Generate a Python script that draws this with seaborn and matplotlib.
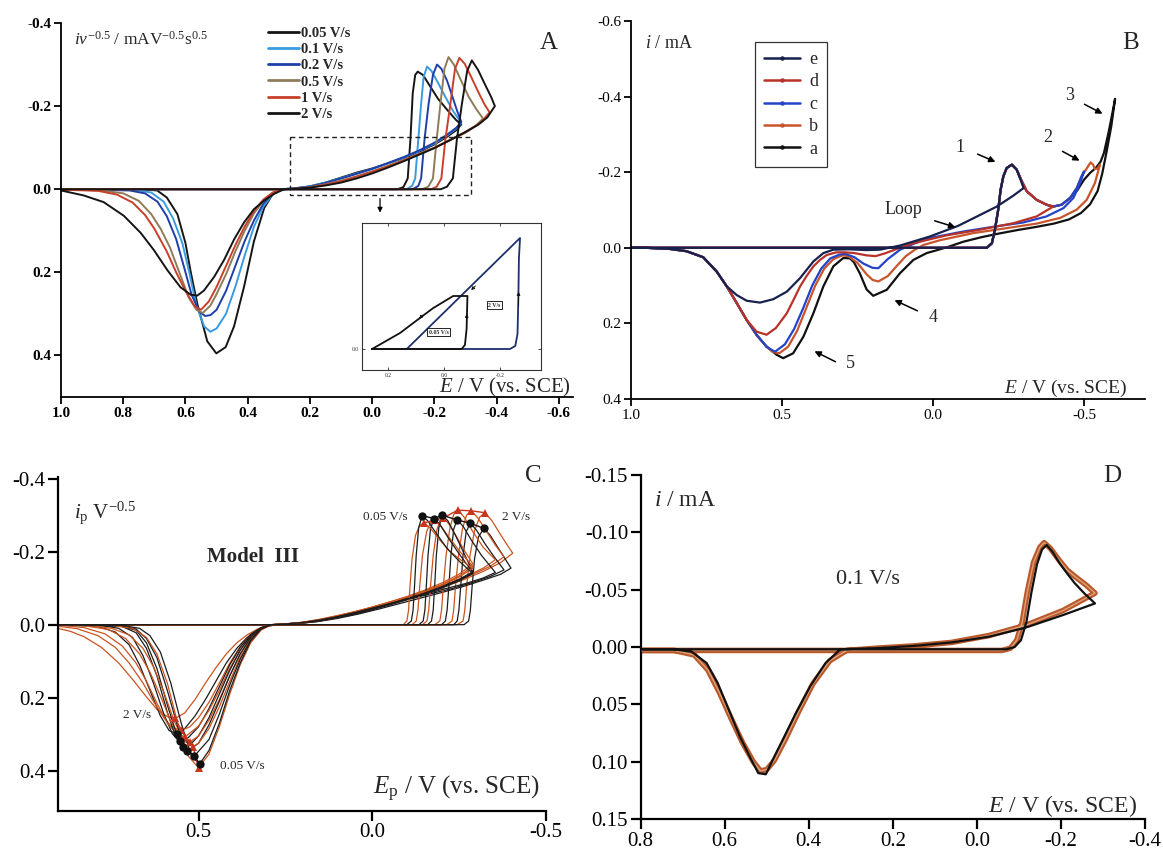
import numpy as np
import matplotlib
matplotlib.use("Agg")
import matplotlib.pyplot as plt
import seaborn as sns
from matplotlib.patches import Rectangle
from matplotlib.lines import Line2D

sns.set_style("ticks")
plt.rcParams["font.family"] = ["Liberation Serif", "DejaVu Serif"]
plt.rcParams["mathtext.fontset"] = "custom"
plt.rcParams["mathtext.rm"] = "Liberation Serif"
plt.rcParams["mathtext.it"] = "Liberation Serif:italic"
plt.rcParams["mathtext.bf"] = "Liberation Serif:bold"
plt.rcParams["axes.unicode_minus"] = False

# ---------------- Panel A: scan-rate normalised voltammograms ----------------
a_labels = ["0.05 V/s", "0.1 V/s", "0.2 V/s", "0.5 V/s", "1 V/s", "2 V/s"]
a_colors = ["#151515", "#3a9be0", "#1f3fa8", "#8e7b58", "#c8402a", "#151515"]

a_005 = [(1.0, 0.0), (0.40, 0.0), (-0.08, 0.0), (-0.100, -0.005), (-0.114, -0.026), (-0.123, -0.124),
         (-0.130, -0.230), (-0.138, -0.275), (-0.146, -0.283), (-0.163, -0.275), (-0.184, -0.250),
         (-0.211, -0.218), (-0.243, -0.189), (-0.270, -0.166), (-0.286, -0.156),
         (-0.27, -0.142), (-0.24, -0.126), (-0.20, -0.108), (-0.15, -0.090), (-0.10, -0.075),
         (-0.05, -0.062), (0.00, -0.050), (0.05, -0.040), (0.10, -0.028), (0.15, -0.016), (0.20, -0.007),
         (0.25, -0.002), (0.294, 0.0), (0.320, 0.012), (0.347, 0.045), (0.380, 0.125), (0.412, 0.235),
         (0.444, 0.330), (0.471, 0.380), (0.501, 0.395), (0.530, 0.366), (0.562, 0.276), (0.583, 0.200),
         (0.600, 0.130), (0.626, 0.060), (0.660, 0.020), (0.691, 0.003), (0.75, 0.0), (1.0, 0.0)]
a_01 = [(1.0, 0.0), (-0.11, 0.0), (-0.128, -0.008), (-0.138, -0.026), (-0.148, -0.120), (-0.157, -0.205),
        (-0.165, -0.270), (-0.176, -0.295), (-0.190, -0.285), (-0.210, -0.258), (-0.235, -0.222),
        (-0.260, -0.188), (-0.286, -0.160),
        (-0.27, -0.146), (-0.24, -0.129), (-0.20, -0.110), (-0.15, -0.092), (-0.10, -0.076), (-0.05, -0.062),
        (0.00, -0.049), (0.05, -0.038), (0.10, -0.027), (0.15, -0.016), (0.20, -0.007), (0.25, -0.002),
        (0.29, 0.0), (0.32, 0.012), (0.35, 0.042), (0.38, 0.090), (0.41, 0.160), (0.44, 0.235), (0.47, 0.300),
        (0.50, 0.335), (0.52, 0.343), (0.54, 0.330), (0.565, 0.280), (0.588, 0.200), (0.610, 0.130),
        (0.640, 0.070), (0.670, 0.030), (0.710, 0.008), (0.760, 0.002), (1.0, 0.0)]
a_02 = [(1.0, 0.0), (-0.13, 0.0), (-0.148, -0.008), (-0.157, -0.026), (-0.168, -0.120), (-0.181, -0.205),
        (-0.195, -0.275), (-0.208, -0.300), (-0.222, -0.290), (-0.240, -0.262), (-0.258, -0.222),
        (-0.272, -0.190), (-0.286, -0.162),
        (-0.27, -0.148), (-0.24, -0.131), (-0.20, -0.112), (-0.15, -0.093), (-0.10, -0.077), (-0.05, -0.063),
        (0.00, -0.049), (0.05, -0.037), (0.10, -0.026), (0.15, -0.015), (0.20, -0.006), (0.25, -0.002),
        (0.29, 0.0), (0.32, 0.010), (0.35, 0.035), (0.38, 0.075), (0.41, 0.125), (0.44, 0.185), (0.47, 0.245),
        (0.50, 0.290), (0.52, 0.303), (0.537, 0.305), (0.555, 0.295), (0.580, 0.255), (0.600, 0.200),
        (0.630, 0.120), (0.660, 0.065), (0.690, 0.030), (0.730, 0.010), (0.780, 0.003), (1.0, 0.0)]
a_05 = [(1.0, 0.0), (-0.16, 0.0), (-0.180, -0.006), (-0.195, -0.026), (-0.207, -0.120), (-0.219, -0.205),
        (-0.232, -0.290), (-0.245, -0.318), (-0.262, -0.300), (-0.285, -0.262), (-0.310, -0.222),
        (-0.335, -0.192), (-0.356, -0.170),
        (-0.33, -0.151), (-0.30, -0.136), (-0.25, -0.118), (-0.20, -0.100), (-0.15, -0.085), (-0.10, -0.070),
        (-0.05, -0.056), (0.00, -0.043), (0.05, -0.031), (0.10, -0.021), (0.15, -0.012), (0.20, -0.005),
        (0.25, -0.001), (0.29, 0.0), (0.32, 0.009), (0.35, 0.028), (0.38, 0.058), (0.41, 0.100), (0.44, 0.150),
        (0.47, 0.205), (0.50, 0.252), (0.52, 0.280), (0.545, 0.298), (0.565, 0.290), (0.590, 0.260),
        (0.620, 0.200), (0.650, 0.140), (0.680, 0.095), (0.710, 0.060), (0.750, 0.028), (0.800, 0.010),
        (0.870, 0.003), (1.0, 0.0)]
a_1 = [(1.0, 0.0), (-0.19, 0.0), (-0.207, -0.006), (-0.222, -0.026), (-0.235, -0.120), (-0.251, -0.205),
       (-0.266, -0.290), (-0.280, -0.316), (-0.297, -0.302), (-0.318, -0.270), (-0.340, -0.235),
       (-0.360, -0.205), (-0.377, -0.185),
       (-0.35, -0.161), (-0.30, -0.138), (-0.25, -0.119), (-0.20, -0.100), (-0.15, -0.084), (-0.10, -0.069),
       (-0.05, -0.055), (0.00, -0.042), (0.05, -0.030), (0.10, -0.019), (0.15, -0.011), (0.20, -0.004),
       (0.25, -0.001), (0.29, 0.0), (0.32, 0.008), (0.35, 0.025), (0.38, 0.052), (0.41, 0.090), (0.44, 0.135),
       (0.47, 0.185), (0.50, 0.235), (0.525, 0.270), (0.550, 0.290), (0.570, 0.282), (0.600, 0.245),
       (0.630, 0.200), (0.660, 0.150), (0.700, 0.095), (0.730, 0.062), (0.770, 0.032), (0.820, 0.013),
       (0.880, 0.004), (1.0, 0.001)]
a_2 = [(1.0, 0.0), (-0.22, 0.0), (-0.240, -0.006), (-0.259, -0.026), (-0.272, -0.120), (-0.288, -0.205),
       (-0.305, -0.285), (-0.320, -0.310), (-0.340, -0.287), (-0.361, -0.254), (-0.382, -0.222),
       (-0.394, -0.200),
       (-0.37, -0.173), (-0.34, -0.155), (-0.30, -0.138), (-0.25, -0.118), (-0.20, -0.099), (-0.15, -0.083),
       (-0.10, -0.067), (-0.05, -0.052), (0.00, -0.038), (0.05, -0.026), (0.10, -0.016), (0.15, -0.009),
       (0.20, -0.004), (0.25, -0.001), (0.283, 0.0), (0.315, 0.011), (0.347, 0.027), (0.380, 0.048),
       (0.412, 0.080), (0.444, 0.121), (0.476, 0.170), (0.508, 0.211), (0.541, 0.244), (0.562, 0.256),
       (0.583, 0.254), (0.616, 0.236), (0.658, 0.195), (0.702, 0.146), (0.744, 0.105), (0.798, 0.064),
       (0.863, 0.031), (0.927, 0.015), (1.0, 0.003)]

# zoomed view of the nucleation loop (inset)
ins_2v_E = [0.257, -0.236, -0.255, -0.263, -0.266, -0.268, -0.272, 0.133]
ins_2v_i = [0.0, 0.0, -0.003, -0.015, -0.050, -0.090, -0.111, 0.0]
ins_005_E = [0.257, -0.063, -0.075, -0.081, -0.084, -0.033, 0.038, 0.086, 0.157, 0.257]
ins_005_i = [0.0, 0.0, -0.004, -0.020, -0.053, -0.053, -0.041, -0.031, -0.016, 0.0]

# ---------------- Panel B: different switching potentials ----------------
b_labels = ["e", "d", "c", "b", "a"]
b_colors = ["#17214d", "#b8322a", "#2344c8", "#c8552c", "#111111"]

b_e = [(1.0, 0.0), (0.5, 0.0), (-0.178, 0.0), (-0.195, -0.012), (-0.205, -0.048), (-0.216, -0.101),
       (-0.224, -0.154), (-0.233, -0.189), (-0.244, -0.211), (-0.261, -0.220), (-0.277, -0.207),
       (-0.290, -0.180), (-0.300, -0.158),
       (-0.266, -0.138), (-0.211, -0.109), (-0.156, -0.087), (-0.083, -0.058), (0.010, -0.030),
       (0.109, -0.006), (0.176, 0.005), (0.220, 0.006), (0.280, 0.004), (0.330, 0.005), (0.363, 0.014),
       (0.396, 0.036), (0.440, 0.080), (0.484, 0.116), (0.529, 0.136), (0.573, 0.145), (0.617, 0.140),
       (0.650, 0.125), (0.683, 0.102), (0.716, 0.063), (0.761, 0.025), (0.816, 0.009), (0.871, 0.003),
       (0.950, 0.0), (1.0, 0.0)]
b_d = [(1.0, 0.0), (0.5, 0.0), (-0.178, 0.0), (-0.195, -0.012), (-0.205, -0.048), (-0.216, -0.101),
       (-0.224, -0.154), (-0.233, -0.189), (-0.244, -0.211), (-0.261, -0.220), (-0.277, -0.207),
       (-0.294, -0.176), (-0.310, -0.150), (-0.343, -0.127), (-0.376, -0.114), (-0.398, -0.109),
       (-0.343, -0.083), (-0.266, -0.065), (-0.156, -0.048), (-0.045, -0.033), (0.065, -0.012),
       (0.120, 0.003), (0.160, 0.015), (0.190, 0.022), (0.220, 0.020), (0.260, 0.014), (0.290, 0.012),
       (0.320, 0.012), (0.352, 0.019), (0.374, 0.032), (0.396, 0.049), (0.418, 0.074), (0.440, 0.102),
       (0.462, 0.138), (0.484, 0.173), (0.520, 0.212), (0.551, 0.230), (0.584, 0.222), (0.617, 0.191),
       (0.650, 0.146), (0.683, 0.102), (0.716, 0.063), (0.761, 0.025), (0.816, 0.009), (0.871, 0.003),
       (0.950, 0.0), (1.0, 0.0)]
b_c = [(1.0, 0.0), (0.5, 0.0), (-0.178, 0.0), (-0.195, -0.012), (-0.205, -0.048), (-0.216, -0.101),
       (-0.224, -0.154), (-0.233, -0.189), (-0.244, -0.211), (-0.261, -0.220), (-0.277, -0.207),
       (-0.294, -0.176), (-0.310, -0.150), (-0.343, -0.127), (-0.376, -0.114), (-0.398, -0.109),
       (-0.426, -0.114), (-0.454, -0.132), (-0.476, -0.158), (-0.492, -0.189), (-0.500, -0.202),
       (-0.487, -0.171), (-0.465, -0.132), (-0.432, -0.105), (-0.376, -0.083), (-0.299, -0.067),
       (-0.211, -0.057), (-0.100, -0.043), (0.010, -0.026), (0.060, -0.012), (0.109, 0.005), (0.150, 0.030),
       (0.181, 0.054), (0.200, 0.053), (0.230, 0.042), (0.260, 0.025), (0.290, 0.016), (0.310, 0.018),
       (0.340, 0.028), (0.370, 0.055), (0.400, 0.100), (0.430, 0.160), (0.460, 0.215), (0.490, 0.255),
       (0.523, 0.275), (0.551, 0.262), (0.584, 0.230), (0.617, 0.191), (0.650, 0.146), (0.683, 0.102),
       (0.716, 0.063), (0.761, 0.025), (0.816, 0.009), (0.871, 0.003), (0.950, 0.0), (1.0, 0.0)]
b_b = [(1.0, 0.0), (0.5, 0.0), (-0.178, 0.0), (-0.195, -0.012), (-0.205, -0.048), (-0.216, -0.101),
       (-0.224, -0.154), (-0.233, -0.189), (-0.244, -0.211), (-0.261, -0.220), (-0.277, -0.207),
       (-0.294, -0.176), (-0.310, -0.150), (-0.343, -0.127), (-0.376, -0.114), (-0.398, -0.109),
       (-0.426, -0.114), (-0.454, -0.132), (-0.476, -0.158), (-0.492, -0.189), (-0.509, -0.210),
       (-0.522, -0.226), (-0.530, -0.220), (-0.536, -0.208), (-0.545, -0.210), (-0.553, -0.220),
       (-0.536, -0.171), (-0.509, -0.127), (-0.476, -0.101), (-0.421, -0.079), (-0.343, -0.064),
       (-0.244, -0.052), (-0.134, -0.039), (-0.023, -0.020), (0.030, -0.008), (0.060, 0.005), (0.090, 0.022),
       (0.120, 0.048), (0.150, 0.075), (0.181, 0.089), (0.200, 0.085), (0.220, 0.070), (0.250, 0.040),
       (0.280, 0.022), (0.300, 0.020), (0.330, 0.030), (0.360, 0.055), (0.390, 0.100), (0.420, 0.160),
       (0.450, 0.220), (0.480, 0.262), (0.509, 0.279), (0.530, 0.276), (0.551, 0.262), (0.584, 0.231),
       (0.617, 0.191), (0.650, 0.146), (0.683, 0.102), (0.716, 0.063), (0.761, 0.025), (0.816, 0.009),
       (0.871, 0.003), (0.950, 0.0), (1.0, 0.0)]
b_a = [(1.0, 0.0), (0.5, 0.0), (-0.178, 0.0), (-0.195, -0.012), (-0.205, -0.048), (-0.216, -0.101),
       (-0.224, -0.154), (-0.233, -0.189), (-0.244, -0.211), (-0.261, -0.220), (-0.277, -0.207),
       (-0.294, -0.176), (-0.310, -0.150), (-0.343, -0.127), (-0.376, -0.114), (-0.398, -0.109),
       (-0.426, -0.114), (-0.454, -0.132), (-0.476, -0.150), (-0.500, -0.180), (-0.520, -0.198),
       (-0.540, -0.212), (-0.555, -0.228), (-0.566, -0.251), (-0.581, -0.304), (-0.592, -0.348),
       (-0.603, -0.394),
       (-0.590, -0.320), (-0.575, -0.255), (-0.560, -0.195), (-0.545, -0.150), (-0.520, -0.115),
       (-0.490, -0.092), (-0.450, -0.075), (-0.400, -0.064), (-0.340, -0.055), (-0.280, -0.047),
       (-0.220, -0.038), (-0.160, -0.028), (-0.100, -0.016), (-0.056, -0.004), (-0.023, 0.004),
       (0.021, 0.014), (0.065, 0.032), (0.109, 0.067), (0.153, 0.111), (0.198, 0.127), (0.220, 0.110),
       (0.242, 0.068), (0.262, 0.038), (0.275, 0.028), (0.297, 0.027), (0.330, 0.049), (0.363, 0.102),
       (0.396, 0.173), (0.429, 0.235), (0.463, 0.279), (0.496, 0.292), (0.518, 0.283), (0.551, 0.261),
       (0.584, 0.231), (0.617, 0.191), (0.650, 0.146), (0.683, 0.102), (0.716, 0.063), (0.761, 0.025),
       (0.816, 0.009), (0.871, 0.003), (0.950, 0.0), (1.0, 0.0)]

# ---------------- Panel C: experiment (black) vs Model III (red) ----------------
c_r005 = [(0.906, 0.0), (-0.09, 0.0), (-0.100, -0.010), (-0.105, -0.040), (-0.109, -0.104), (-0.115, -0.180),
          (-0.125, -0.245), (-0.137, -0.272), (-0.150, -0.279), (-0.170, -0.262), (-0.195, -0.232),
          (-0.225, -0.200), (-0.260, -0.174), (-0.290, -0.155), (-0.25, -0.130), (-0.20, -0.108),
          (-0.15, -0.090), (-0.10, -0.075), (-0.05, -0.061), (0.00, -0.048), (0.05, -0.036), (0.10, -0.025),
          (0.15, -0.015), (0.20, -0.007), (0.25, -0.002), (0.29, 0.0), (0.32, 0.015), (0.35, 0.050),
          (0.38, 0.110), (0.41, 0.190), (0.44, 0.280), (0.47, 0.355), (0.500, 0.392), (0.53, 0.360),
          (0.56, 0.270), (0.59, 0.160), (0.62, 0.080), (0.65, 0.035), (0.69, 0.010), (0.75, 0.002), (0.906, 0.0)]
c_b005 = [(0.906, 0.0), (-0.10, 0.0), (-0.113, -0.010), (-0.118, -0.040), (-0.122, -0.104), (-0.127, -0.190),
          (-0.134, -0.265), (-0.144, -0.299), (-0.160, -0.285), (-0.185, -0.250), (-0.215, -0.210),
          (-0.250, -0.175), (-0.290, -0.140), (-0.25, -0.120), (-0.20, -0.100), (-0.15, -0.084),
          (-0.10, -0.070), (-0.05, -0.057), (0.00, -0.045), (0.05, -0.033), (0.10, -0.022), (0.15, -0.013),
          (0.20, -0.006), (0.25, -0.002), (0.29, 0.0), (0.32, 0.012), (0.35, 0.045), (0.38, 0.105),
          (0.41, 0.180), (0.44, 0.270), (0.47, 0.345), (0.497, 0.382), (0.52, 0.360), (0.55, 0.270),
          (0.58, 0.160), (0.61, 0.075), (0.64, 0.030), (0.67, 0.010), (0.72, 0.002), (0.906, 0.0)]
c_r01 = [(0.906, 0.0), (-0.115, 0.0), (-0.127, -0.010), (-0.132, -0.040), (-0.137, -0.104), (-0.145, -0.190),
         (-0.157, -0.255), (-0.168, -0.280), (-0.180, -0.287), (-0.200, -0.268), (-0.225, -0.235),
         (-0.255, -0.198), (-0.290, -0.160), (-0.25, -0.133), (-0.20, -0.110), (-0.15, -0.092),
         (-0.10, -0.076), (-0.05, -0.062), (0.00, -0.048), (0.05, -0.035), (0.10, -0.024), (0.15, -0.014),
         (0.20, -0.006), (0.25, -0.002), (0.29, 0.0), (0.32, 0.013), (0.35, 0.042), (0.38, 0.090),
         (0.41, 0.155), (0.44, 0.225), (0.47, 0.285), (0.50, 0.325), (0.516, 0.334), (0.54, 0.320),
         (0.57, 0.265), (0.60, 0.185), (0.63, 0.115), (0.66, 0.065), (0.70, 0.028), (0.75, 0.010),
         (0.82, 0.002), (0.906, 0.0)]
c_b01 = [(0.906, 0.0), (-0.135, 0.0), (-0.147, -0.010), (-0.152, -0.040), (-0.156, -0.104), (-0.161, -0.190),
         (-0.168, -0.262), (-0.178, -0.291), (-0.195, -0.275), (-0.220, -0.237), (-0.250, -0.195),
         (-0.290, -0.143), (-0.25, -0.122), (-0.20, -0.102), (-0.15, -0.086), (-0.10, -0.071),
         (-0.05, -0.058), (0.00, -0.045), (0.05, -0.033), (0.10, -0.022), (0.15, -0.013), (0.20, -0.006),
         (0.25, -0.002), (0.29, 0.0), (0.32, 0.012), (0.35, 0.042), (0.38, 0.095), (0.41, 0.165),
         (0.44, 0.245), (0.47, 0.315), (0.512, 0.360), (0.535, 0.345), (0.56, 0.280), (0.59, 0.180),
         (0.62, 0.090), (0.65, 0.038), (0.68, 0.012), (0.73, 0.002), (0.906, 0.0)]
c_r02 = [(0.906, 0.0), (-0.145, 0.0), (-0.158, -0.010), (-0.163, -0.040), (-0.168, -0.104), (-0.176, -0.190),
         (-0.186, -0.258), (-0.195, -0.285), (-0.205, -0.293), (-0.222, -0.275), (-0.245, -0.238),
         (-0.268, -0.200), (-0.290, -0.167), (-0.25, -0.138), (-0.20, -0.114), (-0.15, -0.094),
         (-0.10, -0.077), (-0.05, -0.062), (0.00, -0.048), (0.05, -0.035), (0.10, -0.023), (0.15, -0.013),
         (0.20, -0.006), (0.25, -0.002), (0.29, 0.0), (0.32, 0.012), (0.35, 0.038), (0.38, 0.082),
         (0.41, 0.140), (0.44, 0.205), (0.47, 0.262), (0.50, 0.305), (0.525, 0.322), (0.55, 0.310),
         (0.58, 0.265), (0.61, 0.195), (0.64, 0.130), (0.67, 0.080), (0.71, 0.038), (0.76, 0.013),
         (0.83, 0.003), (0.906, 0.0)]
c_b02 = [(0.906, 0.0), (-0.16, 0.0), (-0.171, -0.010), (-0.176, -0.040), (-0.180, -0.104), (-0.185, -0.190),
         (-0.192, -0.265), (-0.202, -0.300), (-0.218, -0.285), (-0.240, -0.245), (-0.265, -0.195),
         (-0.290, -0.145), (-0.25, -0.124), (-0.20, -0.104), (-0.15, -0.087), (-0.10, -0.072),
         (-0.05, -0.058), (0.00, -0.045), (0.05, -0.033), (0.10, -0.022), (0.15, -0.013), (0.20, -0.006),
         (0.25, -0.002), (0.29, 0.0), (0.32, 0.010), (0.35, 0.035), (0.38, 0.080), (0.41, 0.140),
         (0.44, 0.210), (0.47, 0.275), (0.50, 0.325), (0.532, 0.347), (0.56, 0.310), (0.59, 0.220),
         (0.62, 0.120), (0.65, 0.050), (0.68, 0.015), (0.73, 0.003), (0.906, 0.0)]
c_r05 = [(0.906, 0.0), (-0.18, 0.0), (-0.195, -0.010), (-0.200, -0.040), (-0.205, -0.104), (-0.213, -0.190),
         (-0.224, -0.265), (-0.235, -0.302), (-0.247, -0.314), (-0.265, -0.295), (-0.290, -0.255),
         (-0.320, -0.212), (-0.355, -0.178), (-0.32, -0.155), (-0.27, -0.132), (-0.20, -0.106),
         (-0.15, -0.090), (-0.10, -0.074), (-0.05, -0.059), (0.00, -0.045), (0.05, -0.032), (0.10, -0.021),
         (0.15, -0.012), (0.20, -0.005), (0.25, -0.001), (0.29, 0.0), (0.32, 0.010), (0.35, 0.032),
         (0.38, 0.070), (0.41, 0.120), (0.44, 0.180), (0.47, 0.235), (0.50, 0.278), (0.538, 0.307),
         (0.56, 0.302), (0.59, 0.270), (0.62, 0.215), (0.65, 0.155), (0.68, 0.105), (0.72, 0.058),
         (0.77, 0.025), (0.83, 0.008), (0.906, 0.001)]
c_b05 = [(0.906, 0.0), (-0.20, 0.0), (-0.211, -0.010), (-0.216, -0.040), (-0.221, -0.104), (-0.227, -0.190),
         (-0.235, -0.262), (-0.245, -0.287), (-0.262, -0.270), (-0.285, -0.233), (-0.315, -0.190),
         (-0.355, -0.143), (-0.32, -0.128), (-0.27, -0.113), (-0.20, -0.096), (-0.15, -0.083),
         (-0.10, -0.069), (-0.05, -0.055), (0.00, -0.042), (0.05, -0.030), (0.10, -0.020), (0.15, -0.011),
         (0.20, -0.005), (0.25, -0.001), (0.29, 0.0), (0.32, 0.009), (0.35, 0.030), (0.38, 0.070),
         (0.41, 0.125), (0.44, 0.190), (0.47, 0.255), (0.50, 0.305), (0.525, 0.330), (0.545, 0.335),
         (0.565, 0.310), (0.59, 0.240), (0.62, 0.140), (0.65, 0.065), (0.68, 0.022), (0.72, 0.005), (0.906, 0.0)]
c_r1 = [(0.906, 0.0), (-0.215, 0.0), (-0.230, -0.010), (-0.235, -0.040), (-0.240, -0.104), (-0.249, -0.190),
        (-0.260, -0.262), (-0.272, -0.300), (-0.286, -0.312), (-0.305, -0.292), (-0.330, -0.255),
        (-0.355, -0.218), (-0.380, -0.186), (-0.34, -0.160), (-0.29, -0.138), (-0.23, -0.114),
        (-0.17, -0.094), (-0.10, -0.073), (-0.05, -0.058), (0.00, -0.044), (0.05, -0.031), (0.10, -0.020),
        (0.15, -0.011), (0.20, -0.005), (0.25, -0.001), (0.29, 0.0), (0.32, 0.008), (0.35, 0.027),
        (0.38, 0.060), (0.41, 0.105), (0.44, 0.160), (0.47, 0.213), (0.50, 0.255), (0.525, 0.280),
        (0.550, 0.290), (0.575, 0.282), (0.60, 0.255), (0.63, 0.210), (0.66, 0.160), (0.70, 0.105),
        (0.74, 0.062), (0.79, 0.030), (0.85, 0.011), (0.906, 0.004)]
c_b1 = [(0.906, 0.0), (-0.235, 0.0), (-0.245, -0.010), (-0.250, -0.040), (-0.255, -0.104), (-0.262, -0.190),
        (-0.271, -0.255), (-0.283, -0.278), (-0.300, -0.260), (-0.325, -0.222), (-0.350, -0.188),
        (-0.380, -0.150), (-0.34, -0.132), (-0.29, -0.116), (-0.23, -0.099), (-0.17, -0.085),
        (-0.10, -0.068), (-0.05, -0.054), (0.00, -0.041), (0.05, -0.029), (0.10, -0.019), (0.15, -0.010),
        (0.20, -0.004), (0.25, -0.001), (0.29, 0.0), (0.32, 0.008), (0.35, 0.027), (0.38, 0.062),
        (0.41, 0.110), (0.44, 0.170), (0.47, 0.230), (0.50, 0.280), (0.53, 0.310), (0.553, 0.318),
        (0.575, 0.300), (0.60, 0.245), (0.63, 0.160), (0.66, 0.085), (0.69, 0.035), (0.73, 0.010),
        (0.78, 0.002), (0.906, 0.0)]
c_r2 = [(0.906, 0.0), (-0.245, 0.0), (-0.262, -0.010), (-0.267, -0.040), (-0.272, -0.104), (-0.282, -0.190),
        (-0.295, -0.258), (-0.310, -0.295), (-0.325, -0.307), (-0.345, -0.285), (-0.368, -0.250),
        (-0.388, -0.220), (-0.405, -0.196), (-0.37, -0.170), (-0.32, -0.146), (-0.26, -0.122),
        (-0.20, -0.101), (-0.14, -0.082), (-0.08, -0.064), (-0.02, -0.048), (0.04, -0.032), (0.10, -0.019),
        (0.16, -0.009), (0.22, -0.003), (0.27, 0.0), (0.30, 0.003), (0.33, 0.012), (0.36, 0.028),
        (0.39, 0.050), (0.42, 0.080), (0.45, 0.118), (0.48, 0.160), (0.51, 0.205), (0.54, 0.242),
        (0.567, 0.257), (0.59, 0.252), (0.62, 0.232), (0.65, 0.198), (0.69, 0.150), (0.73, 0.105),
        (0.78, 0.062), (0.83, 0.033), (0.87, 0.018), (0.906, 0.010)]
c_b2 = [(0.906, 0.0), (-0.265, 0.0), (-0.278, -0.010), (-0.283, -0.040), (-0.288, -0.104), (-0.295, -0.180),
        (-0.306, -0.240), (-0.322, -0.264), (-0.340, -0.245), (-0.362, -0.212), (-0.382, -0.182),
        (-0.400, -0.155), (-0.37, -0.138), (-0.32, -0.122), (-0.26, -0.104), (-0.20, -0.088),
        (-0.14, -0.073), (-0.08, -0.058), (-0.02, -0.043), (0.04, -0.029), (0.10, -0.017), (0.16, -0.008),
        (0.22, -0.003), (0.27, 0.0), (0.30, 0.004), (0.33, 0.015), (0.36, 0.035), (0.39, 0.065),
        (0.42, 0.105), (0.45, 0.155), (0.48, 0.205), (0.51, 0.250), (0.54, 0.285), (0.562, 0.300),
        (0.585, 0.290), (0.61, 0.250), (0.64, 0.180), (0.67, 0.110), (0.70, 0.055), (0.74, 0.020),
        (0.79, 0.005), (0.906, 0.0)]

# peak positions marked on the curves
c_cat_black_E = [-0.144, -0.178, -0.202, -0.245, -0.283, -0.322]
c_cat_black_i = [-0.299, -0.291, -0.300, -0.287, -0.278, -0.264]
c_cat_red_E = [-0.150, -0.180, -0.205, -0.247, -0.286, -0.325]
c_cat_red_i = [-0.279, -0.287, -0.293, -0.314, -0.312, -0.307]
c_an_black_E = [0.497, 0.512, 0.532, 0.545, 0.553, 0.562]
c_an_black_i = [0.382, 0.360, 0.347, 0.335, 0.318, 0.300]
c_an_red_E = [0.500, 0.516, 0.525, 0.538, 0.550, 0.567]
c_an_red_i = [0.392, 0.334, 0.322, 0.307, 0.290, 0.257]

# ---------------- Panel D: fit at 0.1 V/s ----------------
d_exp = [(0.80, 0.002), (0.40, 0.002), (0.00, 0.002), (-0.070, 0.002), (-0.090, 0.0), (-0.105, -0.006),
         (-0.118, -0.022), (-0.130, -0.048), (-0.143, -0.072), (-0.155, -0.085), (-0.166, -0.089),
         (-0.180, -0.083), (-0.197, -0.073), (-0.215, -0.064), (-0.232, -0.056), (-0.255, -0.047),
         (-0.281, -0.038), (-0.206, -0.028), (-0.117, -0.017), (-0.029, -0.009), (0.060, -0.004),
         (0.148, -0.001), (0.237, 0.001), (0.325, 0.002), (0.360, 0.014), (0.396, 0.034), (0.431, 0.058),
         (0.462, 0.081), (0.489, 0.101), (0.502, 0.111), (0.520, 0.110), (0.537, 0.098), (0.564, 0.078),
         (0.590, 0.055), (0.617, 0.031), (0.643, 0.014), (0.679, 0.004), (0.723, 0.002), (0.80, 0.002)]
d_sim = [(0.80, 0.003), (0.40, 0.003), (0.00, 0.003), (-0.060, 0.003), (-0.080, 0.001), (-0.095, -0.006),
         (-0.108, -0.022), (-0.120, -0.048), (-0.135, -0.074), (-0.150, -0.087), (-0.160, -0.091),
         (-0.175, -0.086), (-0.195, -0.076), (-0.215, -0.067), (-0.235, -0.061), (-0.260, -0.054),
         (-0.281, -0.047), (-0.206, -0.032), (-0.117, -0.019), (-0.029, -0.010), (0.060, -0.004),
         (0.148, -0.001), (0.237, 0.001), (0.310, 0.003), (0.350, 0.012), (0.390, 0.032), (0.425, 0.057),
         (0.455, 0.080), (0.482, 0.099), (0.500, 0.107), (0.515, 0.108), (0.532, 0.100), (0.558, 0.083),
         (0.585, 0.062), (0.612, 0.040), (0.640, 0.020), (0.672, 0.007), (0.720, 0.003), (0.80, 0.003)]

# ---------------- axis ticks ----------------
a_xticks = [1.0, 0.8, 0.6, 0.4, 0.2, 0.0, -0.2, -0.4, -0.6]
a_xlabels = ["1.0", "0.8", "0.6", "0.4", "0.2", "0.0", "-0.2", "-0.4", "-0.6"]
a_yticks = [-0.4, -0.2, 0.0, 0.2, 0.4]
a_ylabels = ["-0.4", "-0.2", "0.0", "0.2", "0.4"]
b_xticks = [1.0, 0.5, 0.0, -0.5]
b_xlabels = ["1.0", "0.5", "0.0", "-0.5"]
b_yticks = [-0.6, -0.4, -0.2, 0.0, 0.2, 0.4]
b_ylabels = ["-0.6", "-0.4", "-0.2", "0.0", "0.2", "0.4"]
c_xticks = [0.5, 0.0, -0.5]
c_xlabels = ["0.5", "0.0", "-0.5"]
c_yticks = [-0.4, -0.2, 0.0, 0.2, 0.4]
c_ylabels = ["-0.4", "-0.2", "0.0", "0.2", "0.4"]
d_xticks = [0.8, 0.6, 0.4, 0.2, 0.0, -0.2, -0.4]
d_xlabels = ["0.8", "0.6", "0.4", "0.2", "0.0", "-0.2", "-0.4"]
d_yticks = [-0.15, -0.10, -0.05, 0.0, 0.05, 0.10, 0.15]
d_ylabels = ["-0.15", "-0.10", "-0.05", "0.00", "0.05", "0.10", "0.15"]

W, H = 1163, 857
fig = plt.figure(figsize=(W / 100, H / 100), dpi=100)
fig.patch.set_facecolor("white")


def box(l, t, r, b):
    return [l / W, 1 - b / H, (r - l) / W, (b - t) / H]


def fp(x, y):
    return (x / W, 1 - y / H)


def split(pts):
    arr = np.array(pts, dtype=float)
    return arr[:, 0], arr[:, 1]


def curve(ax, pts, color, lw, zorder=2):
    e, i = split(pts)
    sns.lineplot(x=e, y=i, sort=False, estimator=None, ax=ax, color=color,
                 linewidth=lw, zorder=zorder, legend=False)


def style(ax, xlim, ylim, xt, xl, yt, yl, size, weight="normal", lw=1.2, tlen=5):
    ax.set_xlim(*xlim)
    ax.set_ylim(*ylim)
    ax.set_xticks(xt)
    ax.set_xticklabels(xl, fontsize=size, fontweight=weight)
    ax.set_yticks(yt)
    ax.set_yticklabels(yl, fontsize=size, fontweight=weight)
    ax.set_xlabel("")
    ax.set_ylabel("")
    sns.despine(ax=ax)
    for s in ("left", "bottom"):
        ax.spines[s].set_linewidth(lw)
        ax.spines[s].set_color("black")
    ax.tick_params(direction="out", length=tlen, width=lw, pad=2, colors="black")
    ax.set_facecolor("white")


# ---------------- Panel A ----------------
axA = fig.add_axes(box(61, 23, 573, 397))
for pts, col in zip([a_005, a_01, a_02, a_05, a_1, a_2], a_colors):
    curve(axA, pts, col, 1.4)
style(axA, (1.0, -0.645), (0.5, -0.4), a_xticks, a_xlabels, a_yticks, a_ylabels, 11, "bold", 1.3)
axA.add_patch(Rectangle((0.263, -0.126), -0.581, 0.141, fill=False, ec="#222222",
                        lw=1.0, ls=(0, (3.5, 2.5)), zorder=3))
axA.annotate("", xy=(-0.025, 0.063), xytext=(-0.025, 0.016),
             arrowprops=dict(arrowstyle="-|>", color="black", lw=0.9, mutation_scale=7))
handlesA = [Line2D([0], [0], color=c, lw=2.0) for c in a_colors]
axA.legend(handlesA, a_labels, loc="upper left", bbox_to_anchor=fp(268, 27),
           bbox_transform=fig.transFigure, frameon=False, handlelength=2.1,
           handletextpad=0.15, labelspacing=0.2, borderpad=0, borderaxespad=0,
           prop={"family": "Liberation Serif", "weight": "bold", "size": 10.5})
fig.text(*fp(74, 40), r"$iv^{-0.5}$ / mAV$^{-0.5}$s$^{0.5}$", ha="left", va="center", fontsize=12.5)
fig.text(*fp(549, 43), "A", ha="center", va="center", fontsize=18)
fig.text(*fp(571, 387), r"$E$ / V (vs. SCE)", ha="right", va="center", fontsize=15)

# inset of panel A
axI = fig.add_axes(box(362, 223, 541, 370))
sns.lineplot(x=ins_2v_E, y=ins_2v_i, sort=False, estimator=None, ax=axI, color="#1f2f6a", lw=1.3)
sns.lineplot(x=ins_005_E, y=ins_005_i, sort=False, estimator=None, ax=axI, color="#111111", lw=1.3)
axI.set_xlim(0.293, -0.347)
axI.set_ylim(0.021, -0.126)
axI.set_xticks([0.2, 0.0, -0.2])
axI.set_xticklabels(["0.2", "0.0", "-0.2"], fontsize=4)
axI.set_yticks([0.0])
axI.set_yticklabels(["0.0"], fontsize=4)
axI.tick_params(direction="in", length=2.5, width=0.6, pad=2, top=True, right=True)
axI.set_xlabel("")
axI.set_ylabel("")
for s in axI.spines.values():
    s.set_linewidth(0.8)
    s.set_color("#333333")
for (x0, y0, x1, y1) in [(-0.266, -0.040, -0.267, -0.060), (-0.120, -0.065, -0.090, -0.057),
                         (-0.081, -0.025, -0.082, -0.038), (0.070, -0.036, 0.095, -0.028)]:
    axI.annotate("", xy=(x1, y1), xytext=(x0, y0),
                 arrowprops=dict(arrowstyle="-|>", color="#111111", lw=0.6, mutation_scale=5))
axI.text(0.019, -0.017, "0.05 V/s", fontsize=4.2, fontweight="bold", ha="center", va="center",
         bbox=dict(boxstyle="square,pad=0.25", fc="white", ec="black", lw=0.6))
axI.text(-0.180, -0.044, "2 V/s", fontsize=4.2, fontweight="bold", ha="center", va="center",
         bbox=dict(boxstyle="square,pad=0.25", fc="white", ec="black", lw=0.6))

# ---------------- Panel B ----------------
axB = fig.add_axes(box(631, 21, 1145, 399))
for pts, col in zip([b_a, b_b, b_c, b_d, b_e], b_colors[::-1]):
    curve(axB, pts, col, 1.6)
style(axB, (1.0, -0.702), (0.4, -0.6), b_xticks, b_xlabels, b_yticks, b_ylabels, 11, "normal", 1.3)
handlesB = [Line2D([0], [0], color=c, lw=1.8, marker="o", markersize=2.2) for c in b_colors]
legB = axB.legend(handlesB, b_labels, loc="upper left", bbox_to_anchor=fp(755, 42),
                  bbox_transform=fig.transFigure, frameon=True, fancybox=False, handlelength=2.0,
                  handletextpad=0.5, labelspacing=0.3, borderpad=0.5, borderaxespad=0, fontsize=13)
legB.get_frame().set_edgecolor("black")
legB.get_frame().set_linewidth(0.9)
fig.text(*fp(645, 43), r"$i$ / mA", ha="left", va="center", fontsize=13)
fig.text(*fp(1131, 43), "B", ha="center", va="center", fontsize=18)
fig.text(*fp(1127, 388), r"$E$ / V (vs. SCE)", ha="right", va="center", fontsize=14)
for txt, tx, ty in [("1", 960, 147), ("2", 1048, 137), ("3", 1070, 95), ("Loop", 903, 210),
                    ("4", 933, 317), ("5", 850, 363)]:
    fig.text(*fp(tx, ty), txt, ha="center", va="center", fontsize=13)
for (sx, sy, ex, ey) in [(975, 153, 998, 163), (1060, 150, 1082, 162), (1082, 103, 1105, 115),
                         (932, 220, 958, 228), (920, 312, 892, 299), (838, 363, 812, 350)]:
    axB.annotate("", xy=fp(ex, ey), xytext=fp(sx, sy), xycoords="figure fraction",
                 textcoords="figure fraction",
                 arrowprops=dict(arrowstyle="-|>", color="black", lw=1.1, mutation_scale=9))

# ---------------- Panel C ----------------
axC = fig.add_axes(box(57.6, 477.3, 545.7, 810.7))
c_black = "#1c1c1c"
c_red = "#c9541f"
for rpts, bpts in [(c_r2, c_b2), (c_r1, c_b1), (c_r05, c_b05), (c_r02, c_b02), (c_r01, c_b01),
                   (c_r005, c_b005)]:
    curve(axC, rpts, c_red, 0.9)
    curve(axC, bpts, c_black, 0.9)
sns.lineplot(x=c_cat_red_E, y=c_cat_red_i, sort=False, estimator=None, ax=axC, color="#c8351c",
             lw=1.0, marker="^", markersize=6, markeredgewidth=0, zorder=4)
sns.lineplot(x=c_cat_black_E, y=c_cat_black_i, sort=False, estimator=None, ax=axC, color="#111111",
             lw=1.0, marker="o", markersize=6, markeredgewidth=0, zorder=4)
sns.lineplot(x=c_an_red_E, y=c_an_red_i, sort=False, estimator=None, ax=axC, color="#c8351c",
             lw=1.0, marker="^", markersize=6, markeredgewidth=0, zorder=4)
sns.lineplot(x=c_an_black_E, y=c_an_black_i, sort=False, estimator=None, ax=axC, color="#111111",
             lw=1.0, marker="o", markersize=6, markeredgewidth=0, zorder=4)
style(axC, (0.906, -0.5), (0.51, -0.404), c_xticks, c_xlabels, c_yticks, c_ylabels, 15, "normal", 1.6, 7)
fig.text(*fp(74, 513), r"$i_{\rm p}$ V$^{-0.5}$", ha="left", va="center", fontsize=15)
fig.text(*fp(253, 557), "Model  III", ha="center", va="center", fontsize=15, fontweight="bold")
fig.text(*fp(533, 476), "C", ha="center", va="center", fontsize=18)
fig.text(*fp(385, 517), "0.05 V/s", ha="center", va="center", fontsize=9.5)
fig.text(*fp(516, 517), "2 V/s", ha="center", va="center", fontsize=9.5)
fig.text(*fp(137, 715), "2 V/s", ha="center", va="center", fontsize=9.5)
fig.text(*fp(242, 766), "0.05 V/s", ha="center", va="center", fontsize=9.5)
fig.text(*fp(540, 789), r"$E_{\rm p}$ / V (vs. SCE)", ha="right", va="center", fontsize=18)

# ---------------- Panel D ----------------
axD = fig.add_axes(box(640.6, 475, 1145, 819))
curve(axD, d_sim, "#b9582a", 4.0, zorder=2)
curve(axD, d_sim, "#dca27a", 1.0, zorder=3)
curve(axD, d_exp, "#111111", 1.6, zorder=4)
style(axD, (0.8, -0.4), (0.15, -0.15), d_xticks, d_xlabels, d_yticks, d_ylabels, 15, "normal", 1.6, 7)
fig.text(*fp(654, 500), r"$i$ / mA", ha="left", va="center", fontsize=17)
fig.text(*fp(1112, 476), "D", ha="center", va="center", fontsize=18)
fig.text(*fp(868, 579), "0.1 V/s", ha="center", va="center", fontsize=16)
fig.text(*fp(1137, 806), r"$E$ / V (vs. SCE)", ha="right", va="center", fontsize=17)

fig.savefig("out.png", dpi=100, facecolor="white")
